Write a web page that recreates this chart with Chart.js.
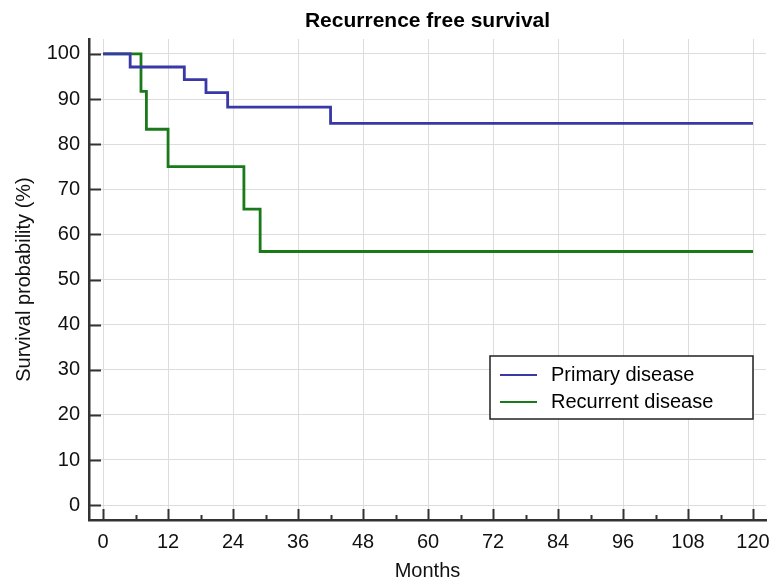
<!DOCTYPE html>
<html>
<head>
<meta charset="utf-8">
<title>Recurrence free survival</title>
<script src="https://cdn.jsdelivr.net/npm/chart.js@4.4.1/dist/chart.umd.min.js"></script>
<style>
  html, body { margin: 0; padding: 0; background: #fff; }
  #wrap { width: 771px; height: 583px; position: relative; }
</style>
</head>
<body>
<div id="wrap"><canvas id="km"></canvas></div>
<script>
// --- data ---
const primaryMonths = [0, 5, 15, 19, 23, 42, 120];
const primarySurv   = [100, 97.1, 94.3, 91.4, 88.2, 84.6, 84.6];
const recurMonths   = [0, 7, 8, 12, 26, 29, 120];
const recurSurv     = [100, 91.7, 83.3, 75.0, 65.6, 56.2, 56.2];
const xTicks = [0, 12, 24, 36, 48, 60, 72, 84, 96, 108, 120];
const yTicks = [0, 10, 20, 30, 40, 50, 60, 70, 80, 90, 100];

const FONT = "'Liberation Sans', Arial, sans-serif";
const AXIS = '#333333';
const GRID = '#dcdcdc';

const toPoints = (xs, ys) => xs.map((x, i) => ({ x: x, y: ys[i] }));

// ticks pointing into the plot, plus title and legend box
const decor = {
  id: 'decor',
  afterDraw(chart) {
    const ctx = chart.ctx;
    const area = chart.chartArea;
    const xs = chart.scales.x, ys = chart.scales.y;
    ctx.save();
    ctx.strokeStyle = AXIS;
    ctx.lineWidth = 2;
    ctx.beginPath();
    yTicks.forEach(v => {
      const py = Math.round(ys.getPixelForValue(v)) + 0.5;
      ctx.moveTo(area.left, py);
      ctx.lineTo(area.left + 12, py);
    });
    xTicks.forEach(v => {
      const px = Math.round(xs.getPixelForValue(v)) + 0.5;
      ctx.moveTo(px, area.bottom);
      ctx.lineTo(px, area.bottom - 11);
      if (v < xTicks[xTicks.length - 1]) {
        const pm = Math.round(xs.getPixelForValue(v + 6)) + 0.5;
        ctx.moveTo(pm, area.bottom);
        ctx.lineTo(pm, area.bottom - 5);
      }
    });
    ctx.stroke();

    // title
    ctx.fillStyle = '#000';
    ctx.font = 'bold 21px ' + FONT;
    ctx.textAlign = 'center';
    ctx.textBaseline = 'middle';
    ctx.fillText('Recurrence free survival', (area.left + area.right) / 2, 21);

    // legend box
    const bx = 490, by = 356, bw = 263, bh = 63;
    ctx.fillStyle = '#fff';
    ctx.fillRect(bx, by, bw, bh);
    ctx.lineWidth = 1.5;
    ctx.strokeStyle = '#222';
    ctx.strokeRect(bx, by, bw, bh);
    ctx.font = '20px ' + FONT;
    ctx.textAlign = 'left';
    chart.data.datasets.forEach((ds, i) => {
      const ly = by + 19 + i * 27;
      ctx.strokeStyle = ds.borderColor;
      ctx.lineWidth = 2;
      ctx.beginPath();
      ctx.moveTo(bx + 10, ly);
      ctx.lineTo(bx + 47, ly);
      ctx.stroke();
      ctx.fillStyle = '#000';
      ctx.fillText(ds.label, bx + 61, ly);
    });
    ctx.restore();
  }
};

new Chart(document.getElementById('km'), {
  type: 'line',
  data: {
    datasets: [
      {
        label: 'Primary disease',
        data: toPoints(primaryMonths, primarySurv),
        borderColor: '#3838a6',
        borderWidth: 2.8,
        stepped: 'before',
        pointRadius: 0,
        fill: false
      },
      {
        label: 'Recurrent disease',
        data: toPoints(recurMonths, recurSurv),
        borderColor: '#1a7a1a',
        borderWidth: 2.8,
        stepped: 'before',
        pointRadius: 0,
        fill: false
      }
    ]
  },
  options: {
    responsive: true,
    maintainAspectRatio: false,
    animation: false,
    layout: { padding: { top: 39, right: 5, left: 0, bottom: 0 } },
    plugins: {
      legend: { display: false },
      title: { display: false },
      tooltip: { enabled: false }
    },
    scales: {
      x: {
        type: 'linear',
        min: -2.6,
        max: 122.4,
        afterBuildTicks: s => { s.ticks = xTicks.map(v => ({ value: v })); },
        afterFit: s => { s.height = 63; s.paddingLeft = 0; s.paddingRight = 0; },
        grid: { color: GRID, lineWidth: 1, drawTicks: false },
        border: { display: true, color: AXIS, width: 2.5 },
        ticks: { color: '#111', font: { family: FONT, size: 20 }, padding: 10, maxRotation: 0, autoSkip: false },
        title: { display: true, text: 'Months', color: '#111', font: { family: FONT, size: 20 }, padding: { top: 0, bottom: 0 } }
      },
      y: {
        min: -3.3,
        max: 103.3,
        afterBuildTicks: s => { s.ticks = yTicks.map(v => ({ value: v })); },
        afterFit: s => { s.width = 89; s.paddingTop = 0; s.paddingBottom = 0; },
        grid: { color: GRID, lineWidth: 1, drawTicks: false },
        border: { display: true, color: AXIS, width: 2.5 },
        ticks: { color: '#111', font: { family: FONT, size: 20 }, padding: 9, autoSkip: false },
        title: { display: true, text: 'Survival probability (%)', color: '#111', font: { family: FONT, size: 20 }, padding: { top: 12, bottom: 4 } }
      }
    }
  },
  plugins: [decor]
});
</script>
</body>
</html>
